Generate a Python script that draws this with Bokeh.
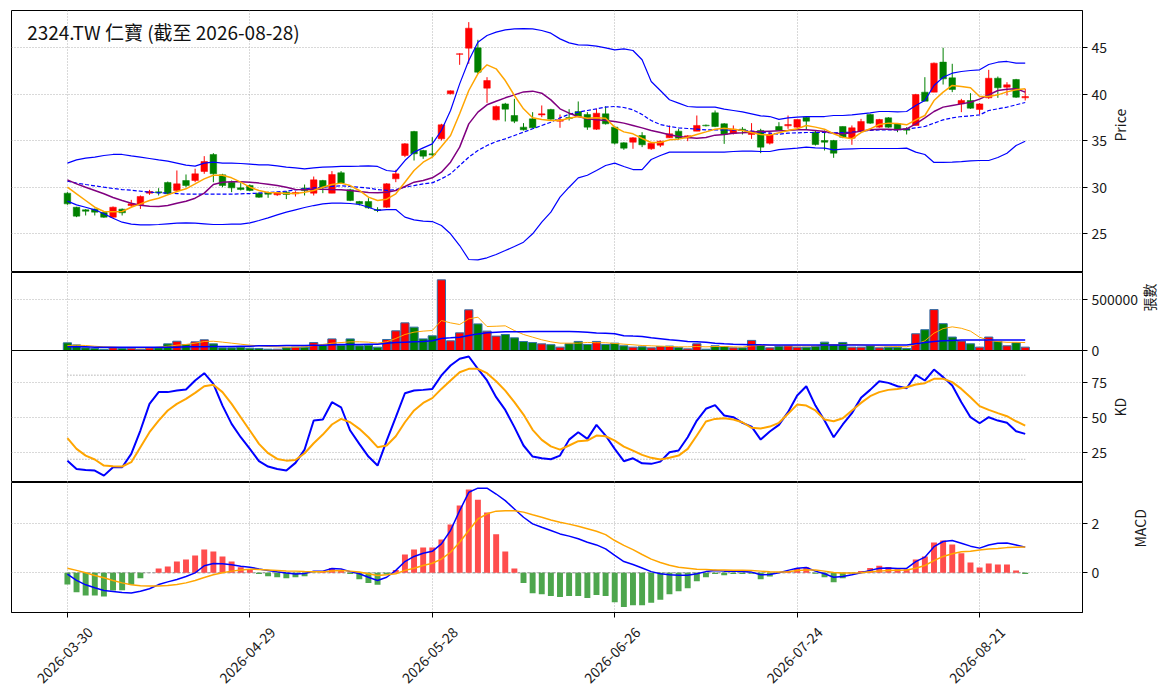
import math
import pandas as pd
from bokeh.plotting import figure
from bokeh.models import (ColumnDataSource, Range1d, FixedTicker, Label,
                          BasicTickFormatter, LinearAxis)
from bokeh.layouts import column
from bokeh.embed import file_html
from bokeh.resources import INLINE

FONT = "Noto Sans CJK TC"
TITLE = "2324.TW 仁寶 (截至 2026-08-28)"

holidays = ["2026-04-03", "2026-04-06", "2026-05-01", "2026-06-19"]
dates = [d.strftime("%Y-%m-%d") for d in pd.bdate_range("2026-03-30", "2026-08-28")
         if d.strftime("%Y-%m-%d") not in holidays]
tick_labels = ["2026-03-30", "2026-04-29", "2026-05-28", "2026-06-26", "2026-07-24", "2026-08-21"]

open_ = [29.37, 27.86, 27.58, 27.65, 27.29, 26.79, 27.65, 28.04, 28.15, 29.37,
         29.51, 30.52, 29.66, 30.73, 30.73, 31.70, 33.53, 31.34, 30.55, 29.94,
         30.19, 29.37, 29.44, 29.19, 29.48, 29.30, 29.91, 29.37, 30.73, 29.37,
         31.56, 29.73, 28.47, 28.47, 27.61, 27.86, 30.91, 33.42, 36.00, 33.96,
         33.60, 35.21, 40.05, 44.30, 44.96, 45.00, 40.66, 37.26, 38.97, 37.72,
         36.47, 37.36, 37.78, 38.37, 37.11, 37.51, 38.15, 37.83, 36.25, 37.90,
         36.47, 34.78, 34.85, 35.57, 34.14, 34.53, 35.32, 36.04, 35.32, 36.04,
         36.68, 38.01, 36.83, 35.82, 36.25, 35.68, 36.11, 34.75, 36.54, 36.61,
         36.47, 37.54, 35.93, 35.03, 35.03, 36.54, 35.28, 36.04, 37.83, 36.47,
         37.47, 36.83, 36.29, 36.65, 40.23, 40.23, 43.46, 41.77, 38.97, 39.33,
         38.37, 39.62, 41.73, 40.77, 41.59, 39.62]
high = [29.48, 27.90, 27.65, 27.72, 27.36, 27.94, 27.72, 28.65, 29.12, 29.73,
        29.91, 30.62, 31.81, 31.38, 32.00, 33.35, 33.67, 31.45, 30.73, 30.45,
        30.30, 29.44, 29.55, 29.51, 29.58, 29.58, 30.30, 31.16, 30.80, 31.74,
        31.74, 29.84, 28.54, 28.83, 27.86, 30.44, 31.88, 34.75, 36.07, 34.03,
        35.39, 36.83, 40.41, 44.40, 47.76, 45.86, 41.84, 38.80, 39.08, 39.51,
        36.90, 38.08, 38.80, 38.44, 37.83, 38.40, 39.23, 38.08, 38.44, 38.72,
        36.54, 34.85, 35.39, 35.93, 34.82, 35.03, 36.65, 36.29, 35.60, 37.72,
        36.75, 38.26, 36.90, 36.65, 36.47, 36.90, 36.29, 35.93, 37.00, 37.72,
        37.29, 37.54, 36.11, 36.11, 35.10, 36.54, 36.65, 37.36, 37.90, 37.36,
        37.54, 36.90, 36.47, 40.05, 41.84, 43.42, 45.00, 43.28, 39.51, 40.12,
        39.05, 42.63, 41.91, 41.30, 41.66, 40.59]
low = [28.12, 26.79, 26.97, 26.97, 26.72, 26.72, 26.97, 27.86, 27.68, 29.19,
       29.12, 29.23, 29.48, 30.01, 30.55, 31.45, 30.55, 30.01, 29.48, 29.66,
       29.58, 28.87, 28.87, 29.08, 28.73, 29.01, 29.12, 29.12, 29.37, 29.37,
       30.37, 28.51, 28.04, 27.69, 27.33, 27.79, 30.55, 33.24, 32.88, 33.06,
       33.24, 35.03, 40.00, 43.17, 43.28, 42.20, 39.08, 37.18, 37.08, 36.90,
       36.11, 36.40, 37.54, 37.26, 36.40, 37.18, 37.54, 36.18, 36.18, 36.75,
       34.60, 34.03, 34.14, 34.32, 34.03, 34.32, 35.32, 35.10, 34.96, 36.04,
       36.54, 36.47, 34.67, 35.68, 35.68, 35.21, 33.67, 34.60, 36.11, 36.29,
       36.40, 36.22, 34.49, 33.96, 33.17, 35.28, 34.57, 35.96, 36.83, 36.40,
       36.40, 35.93, 35.68, 36.65, 39.26, 40.23, 41.05, 40.23, 38.08, 38.44,
       37.83, 39.51, 39.62, 39.87, 39.62, 39.33]
close = [28.22, 26.90, 27.43, 27.33, 26.79, 27.86, 27.26, 28.22, 29.01, 29.55,
         29.41, 29.30, 30.37, 30.19, 31.45, 32.77, 31.45, 30.19, 29.94, 29.76,
         29.66, 28.94, 29.26, 29.44, 29.23, 29.44, 29.66, 30.80, 30.01, 31.38,
         30.45, 28.58, 28.22, 27.79, 27.51, 30.37, 31.45, 34.67, 33.60, 33.35,
         33.49, 36.72, 40.37, 44.35, 47.11, 42.38, 41.48, 38.69, 38.40, 37.11,
         36.18, 36.40, 37.90, 37.33, 37.26, 37.40, 37.61, 36.47, 37.97, 36.83,
         34.75, 34.21, 35.32, 34.57, 34.75, 34.96, 35.75, 35.28, 35.53, 36.65,
         36.61, 36.54, 35.68, 36.25, 36.11, 36.04, 34.32, 35.68, 36.11, 36.75,
         37.29, 37.11, 34.60, 34.85, 33.67, 35.39, 36.40, 37.08, 36.90, 37.29,
         36.47, 36.22, 36.14, 39.98, 39.26, 43.35, 41.66, 40.52, 39.33, 38.51,
         38.97, 41.73, 40.70, 41.02, 39.69, 39.76]

ma5 = [30.01, 29.30, 28.58, 27.86, 27.40, 27.36, 27.40, 27.86, 28.22, 28.58,
       28.83, 29.19, 29.55, 29.84, 30.37, 30.91, 31.30, 31.30, 31.02, 30.55,
       30.01, 29.66, 29.44, 29.41, 29.33, 29.33, 29.48, 29.66, 30.01, 30.30,
       30.45, 30.19, 29.66, 28.94, 28.58, 28.72, 29.30, 30.55, 31.81, 32.70,
       33.24, 34.39, 35.57, 37.90, 40.41, 42.20, 43.17, 42.74, 41.48, 39.87,
       38.44, 37.47, 37.29, 37.18, 37.18, 37.43, 37.61, 37.43, 37.47, 37.43,
       36.47, 35.96, 35.75, 35.25, 34.82, 34.82, 35.10, 35.18, 35.39, 35.68,
       35.96, 36.25, 36.36, 36.25, 36.11, 35.89, 35.68, 35.61, 35.86, 36.11,
       36.29, 36.65, 36.47, 36.25, 35.75, 35.39, 35.21, 35.89, 36.29, 36.75,
       36.90, 36.86, 36.72, 37.25, 37.72, 39.33, 40.23, 40.95, 40.84, 40.70,
       39.76, 39.76, 39.94, 40.26, 40.48, 40.59]
ma10 = [30.80, 30.37, 30.01, 29.66, 29.30, 28.90, 28.58, 28.29, 28.08, 27.97,
        27.94, 28.04, 28.29, 28.51, 28.83, 29.37, 30.30, 30.55, 30.59, 30.59,
        30.55, 30.45, 30.34, 30.19, 30.01, 29.76, 29.73, 29.80, 29.80, 29.76,
        29.73, 29.66, 29.55, 29.44, 29.41, 29.48, 29.66, 30.09, 30.55, 30.73,
        31.02, 31.63, 32.70, 34.32, 36.82, 38.08, 38.87, 39.26, 39.62, 39.94,
        40.26, 40.34, 40.12, 39.40, 38.44, 37.97, 37.61, 37.36, 37.26, 37.18,
        37.08, 36.90, 36.65, 36.39, 36.11, 35.89, 35.64, 35.46, 35.36, 35.28,
        35.36, 35.61, 35.68, 35.82, 35.86, 35.93, 36.00, 36.04, 36.07, 36.11,
        36.18, 36.18, 36.11, 36.00, 35.82, 35.75, 35.86, 36.04, 36.18, 36.25,
        36.25, 36.18, 36.29, 36.82, 37.47, 38.15, 38.62, 38.80, 38.97, 39.15,
        39.48, 39.94, 40.41, 40.55, 40.59, 40.23]
ma20 = [30.66, 30.45, 30.30, 30.16, 30.01, 29.87, 29.76, 29.69, 29.58, 29.48,
        29.41, 29.37, 29.33, 29.26, 29.26, 29.26, 29.26, 29.26, 29.26, 29.30,
        29.33, 29.37, 29.44, 29.51, 29.58, 29.73, 29.83, 29.94, 30.01, 30.09,
        30.16, 30.09, 30.01, 29.91, 29.76, 29.66, 29.76, 30.01, 30.19, 30.37,
        30.48, 30.91, 31.45, 32.34, 33.24, 33.96, 34.49, 34.92, 35.21, 35.57,
        35.93, 36.29, 36.65, 37.00, 37.47, 37.86, 38.08, 38.26, 38.44, 38.62,
        38.69, 38.58, 38.33, 37.83, 37.18, 36.75, 36.54, 36.39, 36.32, 36.25,
        36.18, 36.18, 36.18, 36.14, 36.11, 36.04, 35.93, 35.82, 35.71, 35.82,
        35.86, 35.89, 35.89, 35.89, 35.86, 35.89, 35.93, 36.04, 36.11, 36.18,
        36.18, 36.18, 36.25, 36.39, 36.54, 36.90, 37.25, 37.47, 37.61, 37.68,
        37.79, 38.26, 38.44, 38.62, 38.87, 39.12]
bb_upper = [32.60, 32.95, 33.13, 33.24, 33.42, 33.53, 33.53, 33.38, 33.24, 33.10,
            32.95, 32.81, 32.60, 32.38, 32.27, 32.60, 32.70, 32.60, 32.60, 32.56,
            32.49, 32.42, 32.42, 32.31, 32.17, 32.09, 31.99, 32.09, 32.16, 32.20,
            32.24, 32.24, 32.27, 32.31, 32.24, 31.81, 31.70, 32.88, 33.78, 34.24,
            34.67, 36.11, 38.26, 41.12, 43.63, 45.60, 46.32, 46.68, 46.93, 47.04,
            47.07, 47.04, 46.86, 46.57, 45.96, 45.53, 45.32, 45.28, 45.17, 45.00,
            44.78, 44.89, 44.71, 43.71, 41.38, 40.41, 39.41, 39.05, 38.69, 38.62,
            38.62, 38.62, 38.40, 38.26, 38.11, 37.90, 37.68, 37.61, 37.30, 37.47,
            37.54, 37.61, 37.61, 37.61, 37.72, 37.72, 37.79, 37.90, 38.01, 38.15,
            38.15, 38.11, 38.15, 38.80, 39.33, 40.95, 41.84, 42.27, 42.45, 42.56,
            42.63, 43.20, 43.45, 43.53, 43.35, 43.35]
bb_lower = [28.51, 28.11, 27.86, 27.58, 27.15, 26.68, 26.25, 26.04, 25.96, 25.96,
            26.00, 26.07, 26.14, 26.18, 26.14, 26.07, 26.00, 26.00, 26.04, 26.04,
            26.18, 26.43, 26.72, 27.04, 27.33, 27.58, 27.83, 28.04, 28.22, 28.29,
            28.29, 28.26, 28.15, 27.86, 27.51, 27.61, 27.61, 26.79, 26.50, 26.36,
            26.32, 25.89, 25.00, 23.74, 22.24, 22.20, 22.42, 22.78, 23.20, 23.63,
            24.10, 25.00, 26.25, 27.33, 28.94, 30.01, 31.02, 31.30, 31.81, 32.34,
            32.60, 32.24, 31.91, 31.91, 32.99, 33.42, 33.78, 33.78, 33.78, 33.78,
            33.78, 33.78, 33.78, 33.85, 33.89, 33.89, 33.85, 33.85, 34.06, 34.14,
            34.21, 34.32, 34.24, 34.21, 34.03, 34.10, 34.14, 34.17, 34.17, 34.17,
            34.17, 34.17, 34.21, 33.78, 33.53, 32.67, 32.67, 32.70, 32.77, 32.85,
            32.88, 32.88, 33.20, 33.67, 34.49, 34.96]

volume = [75000, 55000, 26000, 20000, 13000, 26000, 20000, 23000, 13000, 26000,
          26000, 65000, 91000, 59000, 85000, 105000, 65000, 26000, 26000, 33000,
          23000, 20000, 13000, 13000, 26000, 33000, 33000, 78000, 49000, 114000,
          49000, 114000, 46000, 52000, 33000, 108000, 193000, 271000, 229000, 114000,
          144000, 693000, 95000, 173000, 399000, 261000, 190000, 141000, 157000, 124000,
          88000, 78000, 65000, 57000, 33000, 66000, 89000, 59000, 89000, 59000,
          72000, 46000, 33000, 36000, 26000, 39000, 43000, 30000, 16000, 66000,
          13000, 46000, 39000, 26000, 26000, 99000, 49000, 26000, 39000, 46000,
          33000, 33000, 39000, 82000, 56000, 79000, 33000, 33000, 46000, 26000,
          33000, 33000, 20000, 164000, 204000, 401000, 263000, 132000, 92000, 66000,
          33000, 132000, 89000, 46000, 76000, 33000]
vol_ma5 = [49000, 52000, 49000, 42000, 36000, 33000, 29000, 29000, 26000, 26000,
           33000, 42000, 52000, 59000, 72000, 88000, 91000, 82000, 72000, 62000,
           52000, 46000, 39000, 36000, 33000, 33000, 36000, 49000, 59000, 72000,
           78000, 85000, 85000, 82000, 72000, 85000, 118000, 157000, 180000, 190000,
           196000, 294000, 271000, 255000, 310000, 327000, 235000, 238000, 242000, 196000,
           157000, 131000, 105000, 85000, 72000, 72000, 72000, 79000, 76000, 76000,
           69000, 62000, 56000, 49000, 46000, 43000, 39000, 36000, 36000, 39000,
           36000, 39000, 39000, 36000, 33000, 46000, 49000, 53000, 49000, 46000,
           46000, 46000, 46000, 53000, 56000, 59000, 59000, 56000, 49000, 46000,
           43000, 39000, 36000, 60000, 95000, 170000, 215000, 232000, 218000, 190000,
           130000, 100000, 88000, 80000, 80000, 78000]
vol_ma20 = [36000, 36000, 36000, 33000, 33000, 33000, 33000, 33000, 33000, 33000,
            33000, 33000, 33000, 36000, 36000, 36000, 39000, 39000, 39000, 42000,
            42000, 46000, 46000, 46000, 49000, 49000, 49000, 52000, 52000, 56000,
            59000, 59000, 59000, 62000, 62000, 72000, 78000, 82000, 85000, 88000,
            95000, 118000, 124000, 131000, 147000, 163000, 173000, 180000, 183000, 183000,
            183000, 186000, 186000, 186000, 187000, 187000, 184000, 178000, 171000, 168000,
            164000, 145000, 141000, 138000, 125000, 115000, 105000, 99000, 89000, 86000,
            82000, 72000, 66000, 62000, 59000, 56000, 56000, 53000, 53000, 53000,
            53000, 53000, 53000, 53000, 53000, 53000, 53000, 53000, 53000, 53000,
            53000, 53000, 53000, 66000, 79000, 89000, 95000, 99000, 102000, 102000,
            102000, 102000, 102000, 102000, 102000, 102000]

k_line = [19.0, 13.1, 12.4, 11.9, 8.3, 14.3, 14.3, 23.8, 40.5, 59.5,
          67.9, 67.9, 69.0, 69.8, 76.2, 81.4, 73.8, 58.3, 45.2, 35.7,
          27.4, 18.6, 14.8, 13.1, 11.9, 17.4, 26.9, 47.6, 48.3, 60.7,
          57.1, 40.5, 31.0, 21.9, 15.5, 33.3, 50.0, 67.1, 69.0, 69.5,
          70.2, 79.8, 86.9, 91.7, 93.3, 84.5, 76.2, 64.3, 55.2, 42.9,
          29.8, 21.9, 20.7, 20.0, 22.6, 34.0, 39.3, 34.5, 44.5, 36.9,
          27.4, 18.6, 20.7, 17.1, 16.7, 18.3, 25.0, 26.2, 35.7, 47.6,
          56.0, 58.6, 51.2, 50.0, 46.0, 43.3, 34.0, 39.8, 44.5, 53.6,
          65.5, 72.1, 58.3, 47.6, 35.7, 44.8, 52.9, 63.8, 69.5, 75.7,
          74.5, 72.1, 70.7, 80.2, 76.2, 84.0, 78.6, 72.6, 60.7, 50.0,
          45.7, 50.0, 47.6, 46.0, 40.0, 38.1]
d_line = [35.0, 27.4, 22.6, 19.8, 15.5, 15.0, 14.8, 17.9, 28.6, 39.3,
          47.6, 54.8, 59.5, 63.1, 67.4, 72.1, 73.1, 67.9, 59.5, 50.0,
          40.5, 31.0, 24.3, 20.2, 19.0, 19.5, 24.3, 31.4, 37.6, 44.8,
          48.8, 46.4, 41.7, 35.7, 28.6, 29.8, 36.4, 46.4, 54.8, 60.2,
          63.6, 70.2, 76.2, 82.1, 84.5, 84.5, 81.4, 75.7, 69.0, 60.7,
          51.9, 41.0, 33.8, 29.2, 26.9, 29.8, 32.9, 33.3, 36.9, 36.4,
          33.3, 29.0, 26.2, 23.1, 21.0, 19.8, 21.0, 22.6, 27.4, 36.9,
          46.9, 48.8, 49.3, 48.3, 46.4, 42.4, 41.9, 43.3, 46.0, 52.4,
          59.0, 58.3, 54.8, 48.3, 47.1, 49.3, 54.8, 60.2, 65.0, 67.9,
          69.5, 70.2, 71.4, 73.3, 74.3, 77.4, 77.4, 75.0, 70.2, 64.3,
          57.9, 55.2, 52.9, 50.7, 47.1, 44.0]
kd_levels = [20, 80]

macd = [-0.05, -0.31, -0.49, -0.61, -0.72, -0.76, -0.80, -0.82, -0.75, -0.65,
        -0.48, -0.37, -0.27, -0.15, 0.00, 0.29, 0.38, 0.37, 0.33, 0.27,
        0.23, 0.16, 0.10, 0.04, -0.01, -0.05, -0.03, 0.07, 0.07, 0.18,
        0.16, 0.05, -0.04, -0.18, -0.31, -0.18, 0.10, 0.46, 0.67, 0.80,
        0.88, 1.18, 1.73, 2.54, 3.29, 3.46, 3.46, 3.22, 2.95, 2.61,
        2.27, 2.00, 1.86, 1.73, 1.59, 1.50, 1.39, 1.25, 1.14, 0.98,
        0.71, 0.46, 0.34, 0.20, 0.05, -0.04, -0.08, -0.10, -0.10, -0.04,
        0.05, 0.10, 0.07, 0.07, 0.05, 0.03, -0.08, -0.07, 0.00, 0.10,
        0.19, 0.22, 0.07, -0.04, -0.18, -0.15, -0.08, 0.00, 0.10, 0.19,
        0.20, 0.18, 0.18, 0.46, 0.64, 1.07, 1.28, 1.32, 1.21, 1.09,
        1.01, 1.14, 1.21, 1.22, 1.14, 1.05]
signal = [0.19, 0.10, 0.00, -0.11, -0.20, -0.31, -0.41, -0.49, -0.53, -0.54,
          -0.54, -0.52, -0.48, -0.41, -0.31, -0.19, -0.08, 0.00, 0.07, 0.12,
          0.15, 0.14, 0.12, 0.10, 0.08, 0.07, 0.05, 0.04, 0.04, 0.08,
          0.10, 0.07, 0.03, -0.04, -0.11, -0.08, -0.04, 0.10, 0.19, 0.30,
          0.39, 0.56, 0.84, 1.25, 1.73, 2.20, 2.41, 2.52, 2.54, 2.54,
          2.48, 2.37, 2.27, 2.16, 2.07, 1.99, 1.90, 1.80, 1.70, 1.56,
          1.32, 1.12, 0.95, 0.75, 0.56, 0.42, 0.31, 0.23, 0.19, 0.15,
          0.14, 0.12, 0.12, 0.11, 0.11, 0.10, 0.07, 0.04, 0.03, 0.04,
          0.10, 0.12, 0.12, 0.07, 0.01, -0.01, -0.01, 0.00, 0.04, 0.07,
          0.10, 0.11, 0.12, 0.19, 0.30, 0.50, 0.67, 0.78, 0.86, 0.88,
          0.93, 0.97, 0.99, 1.03, 1.05, 1.06]
hist = [-0.48, -0.79, -0.93, -0.93, -0.97, -0.72, -0.71, -0.49, -0.22, 0.00,
        0.18, 0.26, 0.46, 0.54, 0.71, 0.95, 0.87, 0.67, 0.46, 0.23,
        0.12, -0.05, -0.14, -0.18, -0.22, -0.18, -0.14, -0.01, 0.07, 0.20,
        0.12, -0.05, -0.26, -0.41, -0.49, -0.07, 0.12, 0.75, 0.95, 1.03,
        1.03, 1.36, 1.97, 2.75, 3.40, 2.99, 2.46, 1.58, 0.87, 0.18,
        -0.42, -0.83, -0.87, -0.95, -0.99, -0.95, -0.95, -1.03, -0.91, -0.95,
        -1.20, -1.40, -1.32, -1.32, -1.22, -1.10, -0.87, -0.75, -0.63, -0.34,
        -0.18, -0.05, -0.10, -0.05, -0.05, -0.04, -0.26, -0.15, -0.01, 0.08,
        0.20, 0.23, -0.04, -0.18, -0.38, -0.22, -0.03, 0.08, 0.20, 0.29,
        0.24, 0.15, 0.15, 0.54, 0.67, 1.24, 1.32, 1.16, 0.80, 0.42,
        0.22, 0.38, 0.34, 0.34, 0.10, -0.05]

# ---------------------------------------------------------------
idx = list(range(len(dates)))
tick_pos = [dates.index(t) for t in tick_labels]
up = [c >= o for o, c in zip(open_, close)]
src = ColumnDataSource(dict(
    x=idx, open=open_, high=high, low=low, close=close,
    top=[max(o, c) for o, c in zip(open_, close)],
    bottom=[min(o, c) for o, c in zip(open_, close)],
    color=["#ff0000" if u else "#008000" for u in up],
    volume=volume, vol_ma5=vol_ma5, vol_ma20=vol_ma20,
    ma5=ma5, ma10=ma10, ma20=ma20, bbu=bb_upper, bbl=bb_lower,
    k=k_line, d=d_line, macd=macd, signal=signal, hist=hist,
    hcolor=["#ff4d4d" if h >= 0 else "#4da64d" for h in hist],
))

xr = Range1d(-6.13, 111.28)
GRID = "#b3b3b3"
TXT = "#1a1a1a"


def make_fig(fh, yr, yticks, ylabel, standoff, top=0, bottom=0):
    p = figure(frame_width=1071, frame_height=fh, x_range=xr, y_range=yr,
               y_axis_location="right", toolbar_location=None, output_backend="svg",
               min_border_left=11, min_border_right=86, min_border_top=top,
               min_border_bottom=bottom, background_fill_color="white",
               border_fill_color="white")
    p.outline_line_color = "black"
    p.outline_line_width = 1
    p.outline_line_alpha = 1
    p.xgrid.ticker = FixedTicker(ticks=tick_pos)
    p.ygrid.ticker = FixedTicker(ticks=yticks)
    for g in (p.xgrid, p.ygrid):
        g.grid_line_color = GRID
        g.grid_line_dash = "1 2"
        g.grid_line_width = 1
    ax = p.yaxis[0]
    ax.ticker = FixedTicker(ticks=yticks)
    ax.axis_line_color = "black"
    ax.major_tick_line_color = "black"
    ax.major_tick_out = 5
    ax.major_tick_in = 0
    ax.minor_tick_line_color = None
    ax.major_label_text_font = FONT
    ax.major_label_text_font_size = "14px"
    ax.major_label_text_color = TXT
    ax.major_label_standoff = 4
    ax.axis_label = ylabel
    ax.axis_label_text_font = FONT
    ax.axis_label_text_font_size = "14px"
    ax.axis_label_text_font_style = "normal"
    ax.axis_label_text_color = TXT
    ax.axis_label_standoff = standoff
    try:
        ax.axis_label_orientation = math.pi / 2
    except Exception:
        pass
    return p


# price panel
yr_p = Range1d(20.84, 49.01)
p1 = make_fig(262, yr_p, [25, 30, 35, 40, 45], "Price", 10, top=10)
p1.xaxis.visible = False
p1.segment(x0="x", y0="low", x1="x", y1="high", color="color", line_width=1, source=src)
p1.vbar(x="x", top="top", bottom="bottom", width=0.72, fill_color="color",
        line_color="color", line_width=0.5, source=src)
p1.line("x", "bbu", color="#0000ff", line_width=1.2, source=src)
p1.line("x", "bbl", color="#0000ff", line_width=1.2, source=src)
p1.line("x", "ma20", color="#0000ff", line_width=1.2, line_dash="4 2", source=src)
p1.line("x", "ma10", color="#800080", line_width=1.5, source=src)
p1.line("x", "ma5", color="#ffa500", line_width=1.5, source=src)
p1.add_layout(Label(x=-4.41, y=46.78, text=TITLE, text_align="left", text_baseline="middle",
                    text_font=FONT, text_font_size="19px", text_color="#111111"))

# volume panel
yr_v = Range1d(0, 765000)
p2 = make_fig(78, yr_v, [0, 500000], "張數", 8, bottom=12)
p2.xaxis.visible = False
p2.yaxis[0].formatter = BasicTickFormatter(use_scientific=False)
p2.vbar(x="x", top="volume", bottom=0, width=0.9, fill_color="color",
        line_color="#2f6fa8", line_width=1, source=src)
p2.line("x", "vol_ma5", color="#ffa500", line_width=1.0, source=src)
p2.line("x", "vol_ma20", color="#0000ff", line_width=1.5, source=src)

# KD panel (pulled up over the volume panel's bottom border so its "0" stays whole)
yr_k = Range1d(3.4, 97.6)
p3 = make_fig(132, yr_k, [25, 50, 75], "KD", 10)
p3.border_fill_alpha = 0
p3.margin = (-12, 0, 0, 0)
p3.xaxis.visible = False
for lv in kd_levels:
    p3.line([idx[0], idx[-1]], [lv, lv], color="#888888", line_width=1, line_dash="1 2")
p3.line("x", "k", color="#0000ff", line_width=2, source=src)
p3.line("x", "d", color="#ffa500", line_width=2, source=src)

# MACD panel
yr_m = Range1d(-1.62, 3.69)
p4 = make_fig(130, yr_m, [0, 2], "MACD", 38)
p4.line([idx[0], idx[-1]], [0, 0], color="#888888", line_width=1, line_dash="3 2")
p4.vbar(x="x", top="hist", bottom=0, width=0.65, fill_color="hcolor",
        line_color=None, source=src)
p4.line("x", "macd", color="#0000ff", line_width=1.5, source=src)
p4.line("x", "signal", color="#ffa500", line_width=1.5, source=src)

# tick marks at the dates
xa = p4.xaxis[0]
xa.ticker = FixedTicker(ticks=tick_pos)
xa.major_label_overrides = {pos: " " for pos in tick_pos}
xa.major_label_text_font_size = "1px"
xa.major_label_standoff = 0
xa.axis_line_color = "black"
xa.major_tick_out = 5
xa.major_tick_in = 0
xa.minor_tick_line_color = None

# rotated date labels, centred under each tick as in the reference
label_pos = [pos + 2.5 for pos in tick_pos]
xb = LinearAxis(ticker=FixedTicker(ticks=label_pos),
                major_label_overrides={lp: lab for lp, lab in zip(label_pos, tick_labels)},
                major_label_orientation=math.pi / 4,
                axis_line_color=None, major_tick_line_color=None, minor_tick_line_color=None,
                major_tick_out=0, major_tick_in=0, major_label_standoff=8,
                major_label_text_font=FONT, major_label_text_font_size="14px",
                major_label_text_color=TXT)
p4.add_layout(xb, "below")

layout = column(p1, p2, p3, p4, spacing=0)
open("out.html", "w").write(file_html(layout, INLINE, title="2324.TW"))
